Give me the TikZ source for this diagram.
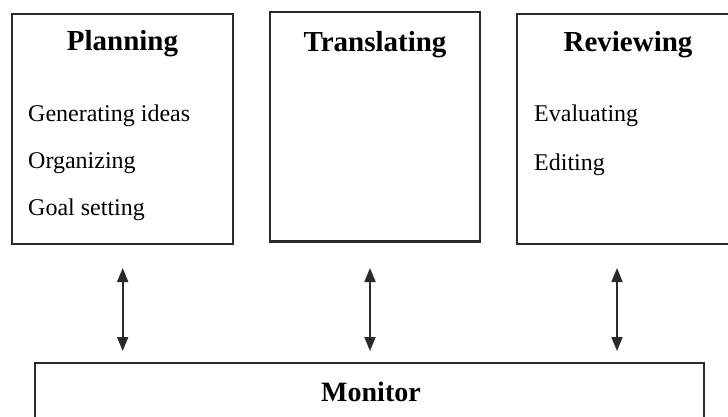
\documentclass[tikz,border=0pt]{standalone}
\usepackage{fontspec}
\setmainfont{Liberation Serif}
\usetikzlibrary{arrows.meta}
\definecolor{linegray}{HTML}{2A2A2A}
\begin{document}
\begin{tikzpicture}[x=1pt,y=-1pt,
  box/.style={draw=linegray,line width=1.6pt,fill=white,inner sep=0pt,anchor=center},
  title/.style={font=\fontsize{29}{32}\selectfont\bfseries,anchor=base,inner sep=0pt},
  item/.style={font=\fontsize{24}{26}\selectfont,anchor=base west,inner sep=0pt},
  link/.style={draw=linegray,line width=1.8pt,{Triangle[length=14pt,width=11pt]}-{Triangle[length=14pt,width=11pt]}}]
\useasboundingbox (0,0) rectangle (728,417);
\fill[white] (0,0) rectangle (728,417);
% boxes
\node[box,minimum width=221pt,minimum height=230pt] (plan) at (122.5,129) {};
\node[box,minimum width=210pt,minimum height=229pt] (trans) at (375,126.5) {};
\draw[linegray,line width=3pt] (trans.south west) -- (trans.south east);
\node[box,minimum width=220pt,minimum height=230pt] (rev) at (627,129) {};
\node[box,minimum width=669pt,minimum height=64pt] (mon) at (369.5,395) {};
% titles
\node[title] (plant) at (122.5,51) {Planning};
\node[title] (transt) at (375,52) {Translating};
\node[title] (revt) at (628,52) {Reviewing};
\node[font=\fontsize{28}{30}\selectfont\bfseries,anchor=base,inner sep=0pt] (mont) at (371,401) {Monitor};
% items
\node[item] (gen) at (28,122) {Generating ideas};
\node[item] (org) at (28,168.5) {Organizing};
\node[item] (goal) at (28,215) {Goal setting};
\node[item] (eval) at (534,122) {Evaluating};
\node[item] (edit) at (534,171) {Editing};
% arrows
\coordinate (a1t) at (122.7,268);
\coordinate (a1b) at (122.7,351);
\coordinate (a2t) at (370,268);
\coordinate (a2b) at (370,351);
\coordinate (a3t) at (617,268);
\coordinate (a3b) at (617,351);
\draw[link] (a1t) -- (a1b);
\draw[link] (a2t) -- (a2b);
\draw[link] (a3t) -- (a3b);
\end{tikzpicture}
\end{document}
